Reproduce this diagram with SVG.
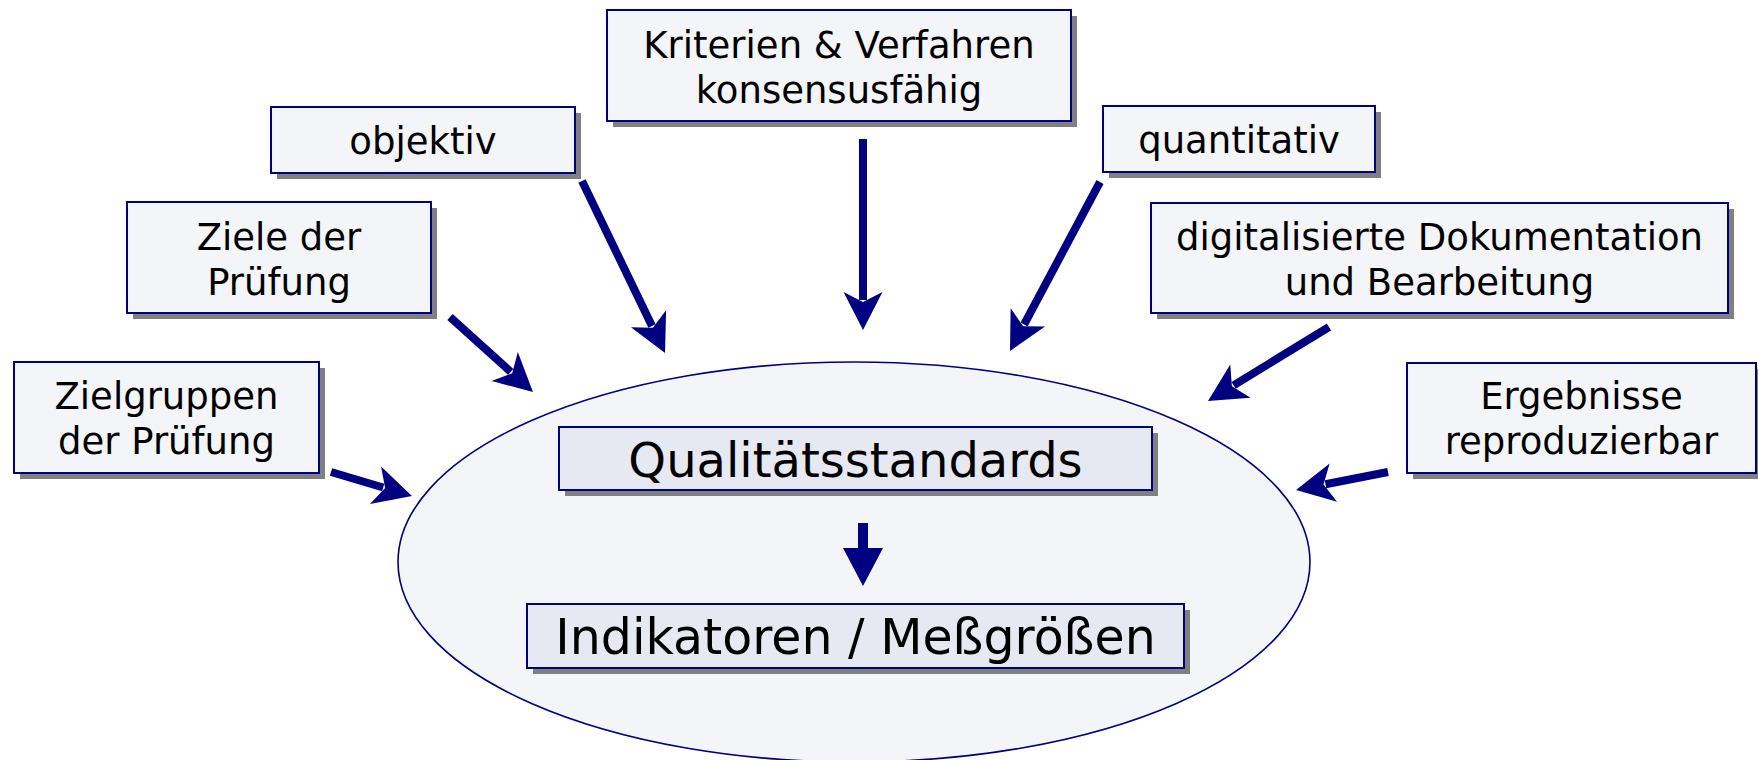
<svg xmlns="http://www.w3.org/2000/svg" width="1758" height="760" viewBox="0 0 1758 760">
  <defs>
    <style>
      .box { fill: #F4F5F9; stroke: #000080; stroke-width: 2; }
      .ibox { fill: #E6E9F2; stroke: #000080; stroke-width: 2; }
      .shadow { fill: #808080; }
      .t { font-family: "DejaVu Sans", Verdana, sans-serif; font-size: 37px; fill: #000000; text-anchor: middle; }
      .tl { font-family: "DejaVu Sans", Verdana, sans-serif; font-size: 48px; fill: #000000; text-anchor: middle; }
      .arrow { stroke: #000080; stroke-width: 8; fill: none; stroke-linecap: butt; marker-end: url(#head); }
    </style>
    <marker id="head" markerUnits="userSpaceOnUse" viewBox="-10 -21 42 42" markerWidth="42" markerHeight="42" refX="0" refY="0" orient="auto">
      <path d="M30,0 L-8,-19.5 L2,0 L-8,19.5 Z" fill="#000080"/>
    </marker>
  </defs>

  <g id="ellipse">
    <ellipse cx="854" cy="562" rx="456" ry="200" fill="#F4F5F9" stroke="#000080" stroke-width="1.6"/>
  </g>

  <g id="connectors">
    <line class="arrow" x1="582" y1="181" x2="652" y2="326"/>
    <line class="arrow" x1="863" y1="139" x2="863" y2="300"/>
    <line class="arrow" x1="1100" y1="182" x2="1024.1" y2="324.5"/>
    <line class="arrow" x1="450" y1="317" x2="510.7" y2="371.9"/>
    <line class="arrow" x1="1329" y1="327" x2="1233.6" y2="385.3"/>
    <line class="arrow" x1="331" y1="472" x2="383.2" y2="487.5"/>
    <line class="arrow" x1="1388" y1="472" x2="1325.5" y2="484.2"/>
    <path d="M858,523 H868 V548 H883 L863,586 L843,548 H858 Z" fill="#000080"/>
  </g>

  <g id="node-kriterien">
    <rect class="shadow" x="613" y="16" width="464" height="111"/>
    <rect class="box" x="607" y="10" width="464" height="111"/>
    <text class="t" x="839" y="58">Kriterien &amp; Verfahren</text>
    <text class="t" x="839" y="103">konsensusfähig</text>
  </g>

  <g id="node-objektiv">
    <rect class="shadow" x="277" y="113" width="304" height="66"/>
    <rect class="box" x="271" y="107" width="304" height="66"/>
    <text class="t" x="423" y="154">objektiv</text>
  </g>

  <g id="node-quantitativ">
    <rect class="shadow" x="1109" y="112" width="272" height="66"/>
    <rect class="box" x="1103" y="106" width="272" height="66"/>
    <text class="t" x="1239" y="153">quantitativ</text>
  </g>

  <g id="node-ziele">
    <rect class="shadow" x="133" y="208" width="304" height="111"/>
    <rect class="box" x="127" y="202" width="304" height="111"/>
    <text class="t" x="279" y="250">Ziele der</text>
    <text class="t" x="279" y="295">Prüfung</text>
  </g>

  <g id="node-digital">
    <rect class="shadow" x="1157" y="209" width="577" height="110"/>
    <rect class="box" x="1151" y="203" width="577" height="110"/>
    <text class="t" x="1439.5" y="250">digitalisierte Dokumentation</text>
    <text class="t" x="1439.5" y="295">und Bearbeitung</text>
  </g>

  <g id="node-zielgruppen">
    <rect class="shadow" x="20" y="368" width="305" height="111"/>
    <rect class="box" x="14" y="362" width="305" height="111"/>
    <text class="t" x="166.5" y="409">Zielgruppen</text>
    <text class="t" x="166.5" y="454">der Prüfung</text>
  </g>

  <g id="node-ergebnisse">
    <rect class="shadow" x="1413" y="369" width="349" height="110"/>
    <rect class="box" x="1407" y="363" width="349" height="110"/>
    <text class="t" x="1581.5" y="409">Ergebnisse</text>
    <text class="t" x="1581.5" y="454">reproduzierbar</text>
  </g>

  <g id="node-qualitaet">
    <rect class="shadow" x="565" y="433" width="593" height="63"/>
    <rect class="ibox" x="559" y="427" width="593" height="63"/>
    <text class="tl" x="855.5" y="477">Qualitätsstandards</text>
  </g>

  <g id="node-indikatoren">
    <rect class="shadow" x="533" y="610" width="657" height="64"/>
    <rect class="ibox" x="527" y="604" width="657" height="64"/>
    <text class="tl" x="855.5" y="654" style="font-size:49px">Indikatoren / Meßgrößen</text>
  </g>
</svg>
